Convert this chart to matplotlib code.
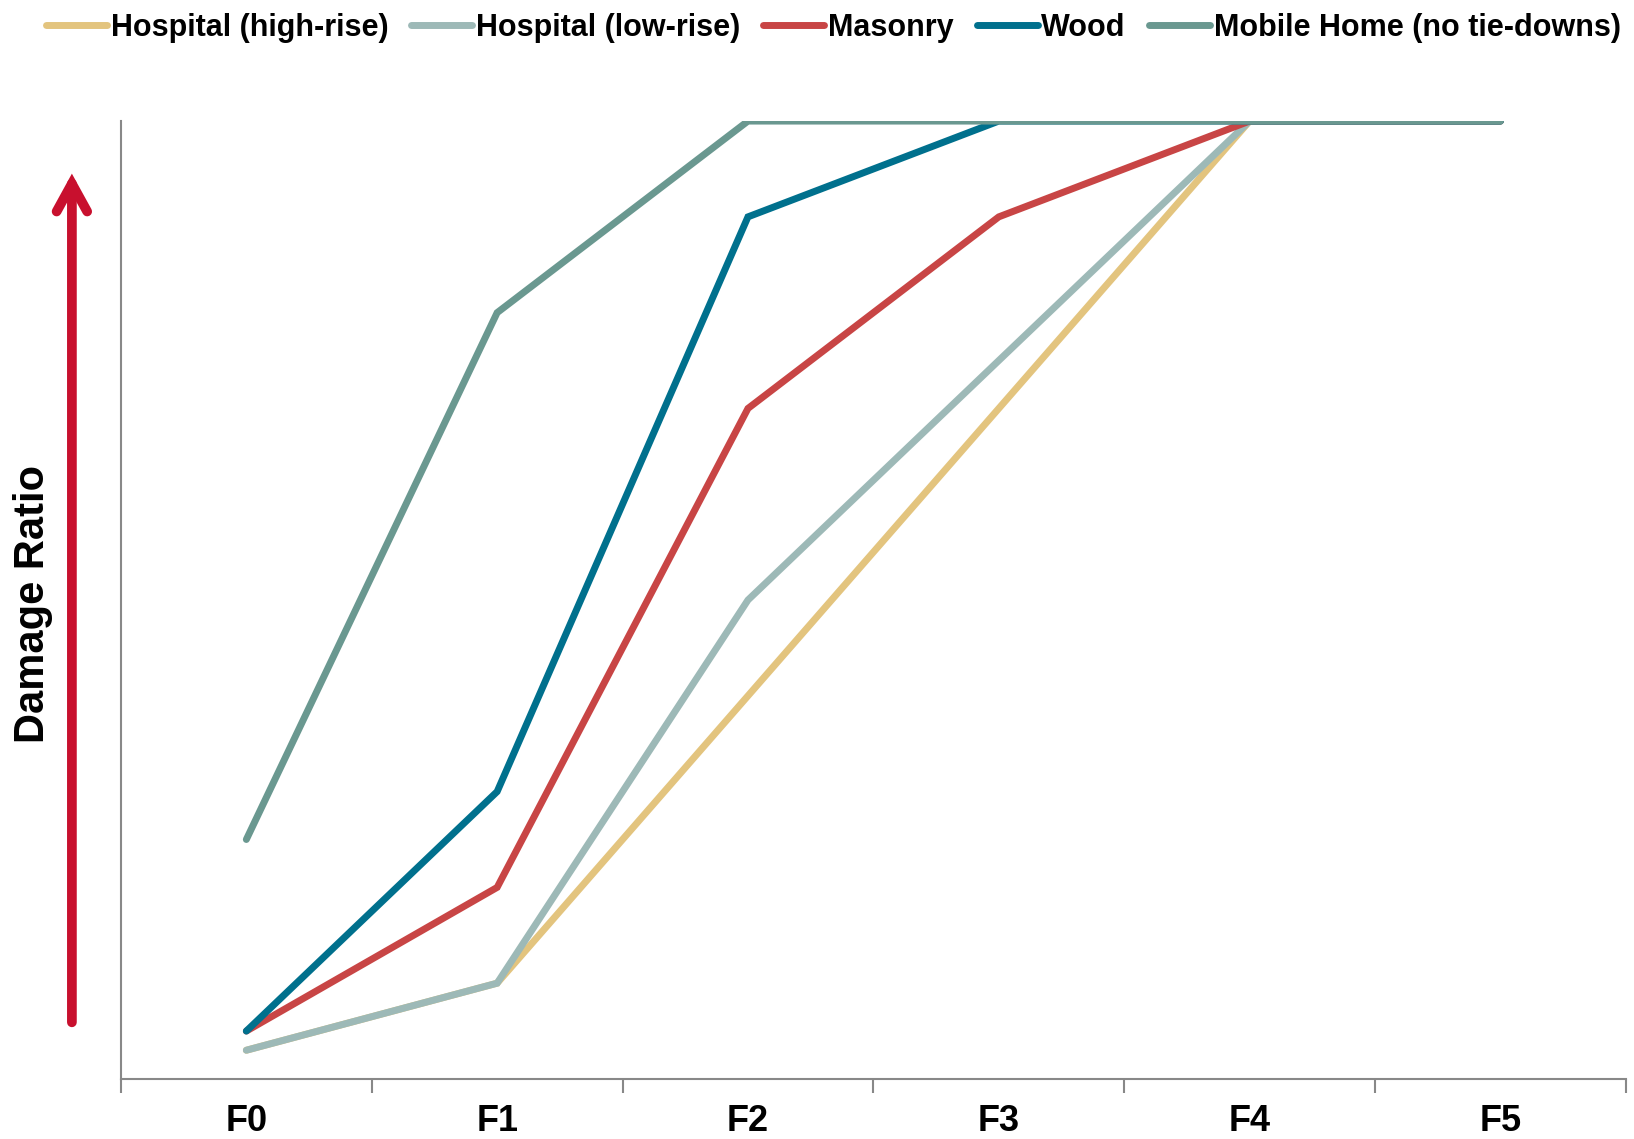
import matplotlib.pyplot as plt
from matplotlib import font_manager
from matplotlib.patches import FancyArrowPatch

names = {f.name for f in font_manager.fontManager.ttflist}
font = 'Liberation Sans Narrow' if 'Liberation Sans Narrow' in names else 'Liberation Sans'
plt.rcParams['font.family'] = [font, 'DejaVu Sans']
plt.rcParams['font.weight'] = 'bold'

categories = ['F0', 'F1', 'F2', 'F3', 'F4', 'F5']
hospital_high = [0.03, 0.10, 0.40, 0.70, 1.0, 1.0]
hospital_low = [0.03, 0.10, 0.50, 0.75, 1.0, 1.0]
masonry = [0.05, 0.20, 0.70, 0.90, 1.0, 1.0]
wood = [0.05, 0.30, 0.90, 1.0, 1.0, 1.0]
mobile_home = [0.25, 0.80, 1.0, 1.0, 1.0, 1.0]

series = [
    ('Hospital (high-rise)', hospital_high, '#E3C47E'),
    ('Hospital (low-rise)', hospital_low, '#9DB9B7'),
    ('Masonry', masonry, '#C84545'),
    ('Wood', wood, '#00708D'),
    ('Mobile Home (no tie-downs)', mobile_home, '#6A9890'),
]

fig = plt.figure(figsize=(16.34, 11.39), dpi=100)
ax = fig.add_axes([0.074, 0.0527, 0.921, 0.841])

x = range(len(categories))
for name, vals, color in series:
    ax.plot(x, vals, color=color, lw=5, label=name, solid_capstyle='round',
            solid_joinstyle='miter')

ax.set_xlim(-0.5, 5.5)
ax.set_ylim(0, 1.0)
ax.set_yticks([])
ax.set_xticks(list(x))
ax.set_xticklabels(categories, fontsize=26, fontweight='bold')
ax.set_xticks([i - 0.5 for i in range(len(categories) + 1)], minor=True)
ax.tick_params(axis='x', which='major', length=0, pad=18)
ax.tick_params(axis='x', which='minor', length=10, width=1.5, color='#888888')
for s in ['top', 'right']:
    ax.spines[s].set_visible(False)
for s in ['left', 'bottom']:
    ax.spines[s].set_color('#888888')
    ax.spines[s].set_linewidth(1.5)

fig.legend(loc='upper center', bbox_to_anchor=(0.510, 1.013), ncol=5, frameon=False,
           handlelength=2.0, handletextpad=0.12, columnspacing=0.75,
           prop={'family': [font, 'DejaVu Sans'], 'weight': 'bold', 'size': 22})

fig.text(0.020, 0.47, 'Damage Ratio', rotation=90, fontsize=30, fontweight='bold',
         ha='center', va='center')
fig.patches.append(FancyArrowPatch(
    (0.044, 0.100), (0.044, 0.850), transform=fig.transFigure,
    arrowstyle='->,head_length=1.0,head_width=0.55', mutation_scale=20,
    color='#C8102E', lw=7, capstyle='round', joinstyle='miter'))

fig.savefig('out.png', dpi=100)
